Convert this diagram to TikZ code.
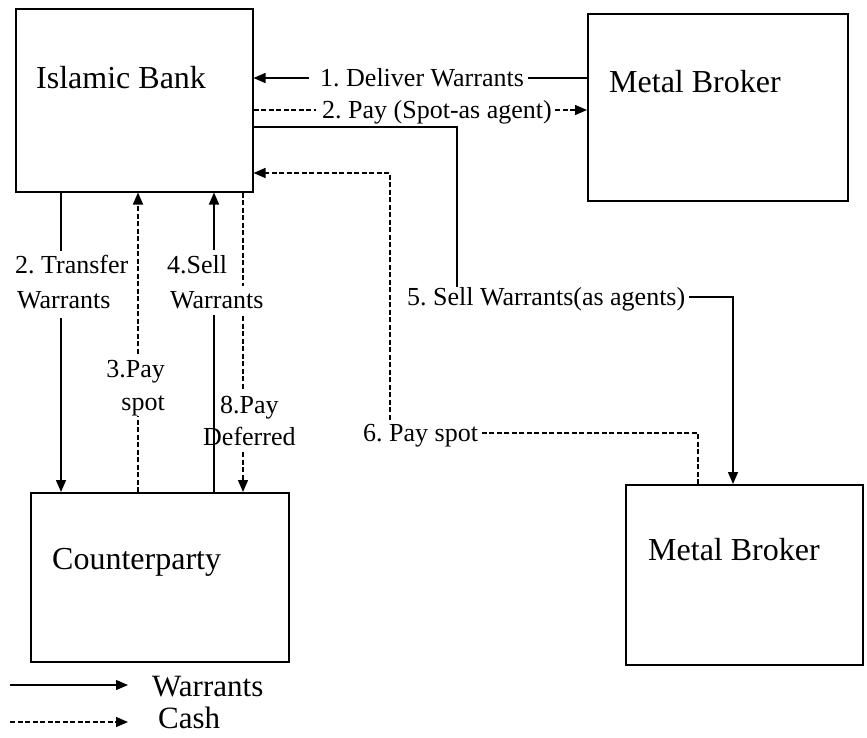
\documentclass[tikz,border=0pt]{standalone}
\usepackage{fontspec}
\setmainfont{Liberation Serif}
\frenchspacing
\usetikzlibrary{arrows.meta,calc}
\begin{document}
\begin{tikzpicture}[x=1pt,y=-1pt,
  box/.style={draw,line width=1.5pt,inner sep=0pt,anchor=north west},
  boxtext/.style={font=\fontsize{32}{36}\selectfont,inner sep=0pt,anchor=base west},
  lbl/.style={font=\fontsize{26}{30}\selectfont,inner sep=0pt,text height=18pt,text depth=2pt},
  legtext/.style={font=\fontsize{31}{36}\selectfont,inner sep=0pt,anchor=base west},
  warr/.style={line width=1.4pt},
  cash/.style={line width=1.4pt,dash pattern=on 5pt off 2.5pt},
  >={Triangle[length=12pt,width=10pt]}]
\useasboundingbox (0,0) rectangle (867,737);
% boxes
\node[box,minimum width=237pt,minimum height=183pt] (ib) at (15,8) {};
\node[box,minimum width=260pt,minimum height=187pt] (mb1) at (587,13) {};
\node[box,minimum width=258pt,minimum height=169pt] (cp) at (30,492) {};
\node[box,minimum width=237pt,minimum height=180pt] (mb2) at (625,484) {};
\node[boxtext] (ibt) at (36,88) {Islamic Bank};
\node[boxtext] (mb1t) at (609,92) {Metal Broker};
\node[boxtext] (cpt) at (52,569) {Counterparty};
\node[boxtext] (mb2t) at (648,560) {Metal Broker};
% labels
\node[lbl,anchor=west] (l1) at (320,78) {1. Deliver Warrants};
\node[lbl,anchor=west] (l2) at (322,110) {2. Pay (Spot-as agent)};
\node[lbl,anchor=west] (l5) at (407,297) {5. Sell Warrants(as agents)};
\node[lbl,anchor=west] (l6) at (363,433) {6. Pay spot};
\node[lbl,anchor=west] (lt1) at (15,265) {2. Transfer};
\node[lbl,anchor=west] (lt2) at (17,300) {Warrants};
\node[lbl,anchor=east] (l3a) at (165,369) {3.Pay};
\node[lbl,anchor=east] (l3b) at (165,402) {spot};
\node[lbl,anchor=west] (l4a) at (167,265) {4.Sell};
\node[lbl,anchor=west] (l4b) at (170,300) {Warrants};
\node[lbl,anchor=west] (l8a) at (220,405) {8.Pay};
\node[lbl,anchor=west] (l8b) at (203,437) {Deferred};
% 1
\draw[warr] (mb1.west |- l1.east) -- ([xshift=4pt]l1.east);
\draw[warr,->] ([xshift=-11pt]l1.west) -- (ib.east |- l1.west);
% 2
\draw[cash] (ib.east |- l2.west) -- ([xshift=-6pt]l2.west);
\draw[cash,->] ([xshift=3pt]l2.east) -- (mb1.west |- l2.east);
% 5
\coordinate (c5a) at (457,127);
\coordinate (c5b) at (733,297);
\draw[warr] (ib.east |- c5a) -- (c5a) -- (c5a |- l5.north);
\draw[warr,->] ([xshift=4pt]l5.east) -- (c5b |- l5.east) -- (c5b |- mb2.north);
% 6
\coordinate (c6) at (698,433);
\coordinate (c6b) at (390,173);
\draw[cash] (c6 |- mb2.north) -- (c6 |- l6.east) -- ([xshift=3pt]l6.east);
\draw[cash,->,shorten <=3pt] (c6b |- l6.north) -- (c6b) -- (ib.east |- c6b);
% 2 transfer
\coordinate (xT) at (61,0);
\draw[warr,shorten >=4pt] (ib.south -| xT) -- (xT |- lt1.north);
\draw[warr,->,shorten <=8pt] (xT |- lt2.south) -- (cp.north -| xT);
% 3 pay spot
\coordinate (x3) at (138,0);
\draw[cash,shorten >=4pt] (cp.north -| x3) -- (x3 |- l3b.south);
\draw[cash,->,shorten <=5pt] (x3 |- l3a.north) -- (ib.south -| x3);
% 4 sell
\coordinate (x4) at (214,0);
\draw[warr,shorten >=5pt] (cp.north -| x4) -- (x4 |- l4b.south);
\draw[warr,->,shorten <=5pt] (x4 |- l4a.north) -- (ib.south -| x4);
% 8 pay deferred
\coordinate (x8) at (243,0);
\draw[cash,shorten >=4pt] (ib.south -| x8) -- (x8 |- l4b.north);
\draw[cash,shorten <=6pt,shorten >=5pt] (x8 |- l4b.south) -- (x8 |- l8a.north);
\draw[cash,->,shorten <=5pt] (x8 |- l8b.south) -- (cp.north -| x8);
% legend
\coordinate (lwa) at (10,685);
\coordinate (lwb) at (128,685);
\coordinate (lca) at (10,722);
\coordinate (lcb) at (128,722);
\draw[warr,->] (lwa) -- (lwb);
\draw[cash,->] (lca) -- (lcb);
\node[legtext] (lw) at (152,696) {Warrants};
\node[legtext] (lc) at (158,728) {Cash};
\end{tikzpicture}
\end{document}
